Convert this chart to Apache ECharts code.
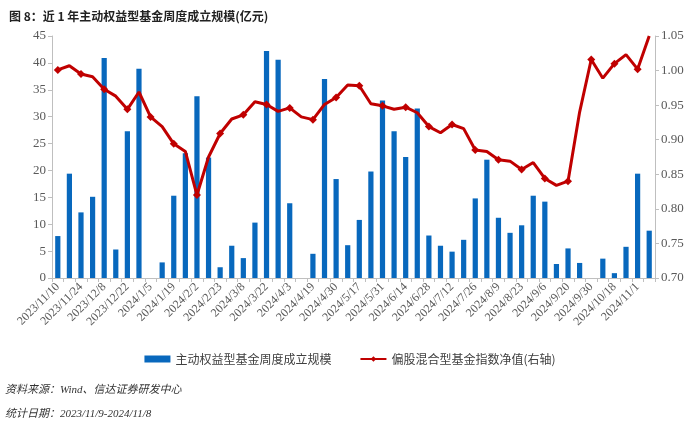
<!DOCTYPE html>
<html><head><meta charset="utf-8">
<script src="https://cdn.jsdelivr.net/npm/echarts@6/dist/echarts.min.js"></script>
<style>html,body{margin:0;padding:0;background:#fff}#c{width:700px;height:426px}</style>
</head><body><div id="c"></div>
<script>
var categories = ["2023/11/10","2023/11/17","2023/11/24","2023/12/1","2023/12/8","2023/12/15","2023/12/22","2023/12/29",
"2024/1/5","2024/1/12","2024/1/19","2024/1/26","2024/2/2","2024/2/9","2024/2/23","2024/3/1","2024/3/8","2024/3/15",
"2024/3/22","2024/3/29","2024/4/3","2024/4/12","2024/4/19","2024/4/26","2024/4/30","2024/5/10","2024/5/17","2024/5/24",
"2024/5/31","2024/6/7","2024/6/14","2024/6/21","2024/6/28","2024/7/5","2024/7/12","2024/7/19","2024/7/26","2024/8/2",
"2024/8/9","2024/8/16","2024/8/23","2024/8/30","2024/9/6","2024/9/13","2024/9/20","2024/9/27","2024/9/30","2024/10/11",
"2024/10/18","2024/10/25","2024/11/1","2024/11/8"];
var fundScale = [7.8,19.4,12.2,15.1,40.9,5.3,27.3,38.9,
0,2.9,15.3,23.2,33.8,22.4,2.0,6.0,3.7,10.3,
42.2,40.6,13.9,0,4.5,37.0,18.4,6.1,10.8,19.8,
33.0,27.3,22.5,31.5,7.9,6.0,4.9,7.1,14.8,22.0,
11.2,8.4,9.8,15.3,14.2,2.6,5.5,2.8,0,3.6,
0.9,5.8,19.4,8.8];
var indexNav = [1.001,1.007,0.995,0.991,0.973,0.963,0.944,0.969,
0.933,0.919,0.894,0.883,0.820,0.875,0.909,0.930,0.936,0.955,
0.951,0.941,0.946,0.933,0.929,0.951,0.961,0.979,0.978,0.952,
0.949,0.944,0.947,0.939,0.919,0.910,0.922,0.916,0.885,0.883,
0.871,0.869,0.857,0.867,0.844,0.834,0.840,0.940,1.016,0.989,
1.010,1.023,1.002,1.050];
var seriesNames = ["主动权益型基金周度成立规模","偏股混合型基金指数净值(右轴)"];
var titleText = "图 8：近 1 年主动权益型基金周度成立规模(亿元)";
var sourceText = "资料来源：Wind、信达证券研发中心";
var dateText = "统计日期：2023/11/9-2024/11/8";

var chart = echarts.init(document.getElementById('c'), null, {renderer:'canvas'});
var serif = "'Liberation Serif','Noto Sans CJK SC',serif";
var axisLineStyle = {color:'#bfbfbf', width:1};
chart.setOption({
  animation:false,
  backgroundColor:'#fff',
  title:{text:titleText, left:4, top:5, textStyle:{fontFamily:"'Noto Sans CJK SC',sans-serif", fontSize:12, fontWeight:'bold', color:'#222'}},
  grid:{left:52, right:45, top:36, bottom:148, containLabel:false},
  legend:{top:348, left:'center', itemGap:28, itemWidth:26, itemHeight:7,
    textStyle:{fontFamily:"'Noto Sans CJK SC',sans-serif", fontSize:12, color:'#404040'},
    data:[{name:seriesNames[0], icon:'rect'},{name:seriesNames[1]}]},
  xAxis:{type:'category', data:categories, boundaryGap:true,
    axisLine:{lineStyle:axisLineStyle},
    axisTick:{show:true, interval:0, length:4, lineStyle:{color:'#bfbfbf'}},
    axisLabel:{interval:1, rotate:45, fontFamily:serif, fontSize:12, color:'#595959', margin:7}},
  yAxis:[
    {type:'value', min:0, max:45, interval:5, splitLine:{show:false},
     axisLine:{show:true, lineStyle:axisLineStyle}, axisTick:{show:true, inside:false, length:4, lineStyle:{color:'#bfbfbf'}},
     axisLabel:{fontFamily:serif, fontSize:13, color:'#595959', margin:6}},
    {type:'value', min:0.70, max:1.05, interval:0.05, splitLine:{show:false},
     axisLine:{show:true, lineStyle:axisLineStyle}, axisTick:{show:true, length:4, lineStyle:{color:'#bfbfbf'}},
     axisLabel:{fontFamily:serif, fontSize:13, color:'#595959', margin:6, formatter:function(v){return v.toFixed(2);}}}
  ],
  series:[
    {name:seriesNames[0], type:'bar', data:fundScale, yAxisIndex:0, barWidth:'45%', itemStyle:{color:'#0868bd'}},
    {name:seriesNames[1], type:'line', data:indexNav, yAxisIndex:1, symbol:'diamond', symbolSize:8,
     lineStyle:{color:'#c00000', width:3}, itemStyle:{color:'#c00000'}}
  ],
  graphic:[
    {type:'text', left:5, top:385, style:{text:sourceText, font:"italic 11px 'Liberation Serif','Noto Sans CJK SC'", fill:'#333'}},
    {type:'text', left:5, top:409, style:{text:dateText, font:"italic 11px 'Liberation Serif','Noto Sans CJK SC'", fill:'#333'}}
  ]
});
</script></body></html>
